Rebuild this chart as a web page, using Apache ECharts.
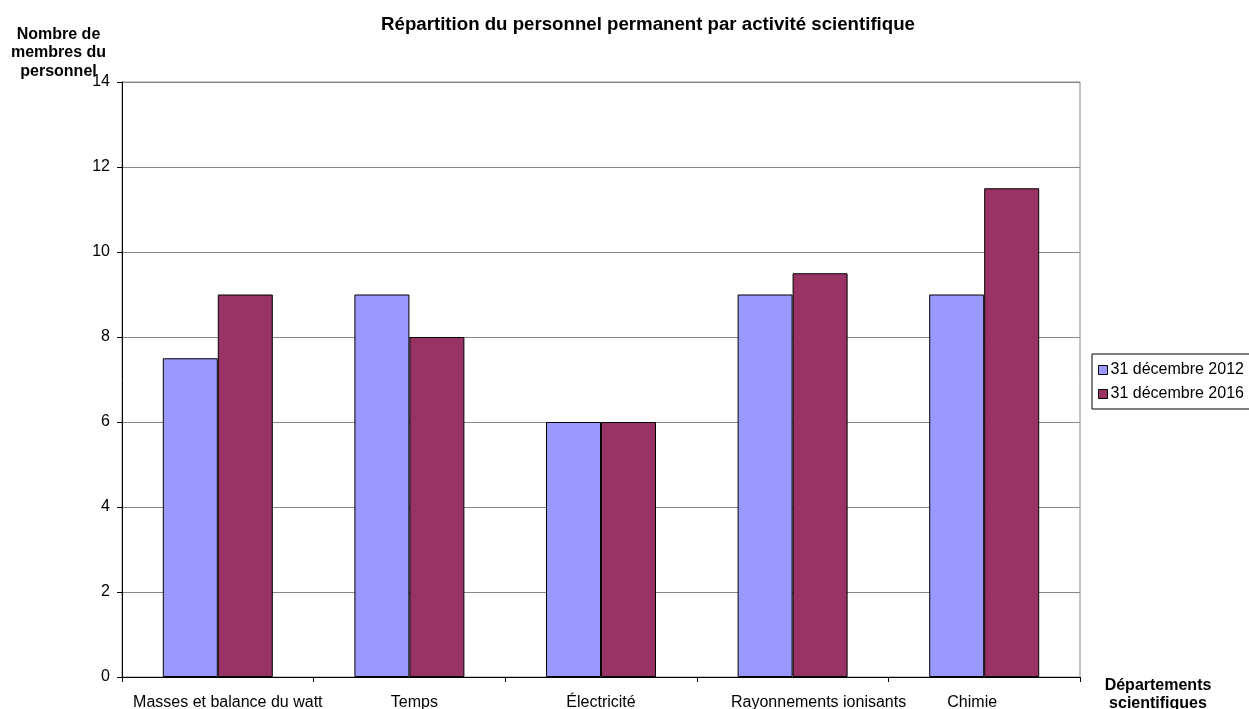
<!DOCTYPE html>
<html>
<head>
<meta charset="utf-8">
<script src="https://cdn.jsdelivr.net/npm/echarts@6/dist/echarts.min.js"></script>
<style>
html,body{margin:0;padding:0;background:#fff;}
#chart{width:1249px;height:709px;}
</style>
</head>
<body>
<div id="chart"></div>
<script>
// Departments and staff counts
const categories = ['Masses et balance du watt', 'Temps', 'Électricité', 'Rayonnements ionisants', 'Chimie'];
const seriesNames = ['31 décembre 2012', '31 décembre 2016'];
const staff2012 = [7.5, 9, 6, 9, 9];
const staff2016 = [9, 8, 6, 9.5, 11.5];
const yTicks = [0, 2, 4, 6, 8, 10, 12, 14];

// horizontal nudges for the category labels (px, + = right)
const labelShift = [10, 5, 0, 26, -12];

const FONT = '"Liberation Sans", Arial, sans-serif';
const chart = echarts.init(document.getElementById('chart'), null, { renderer: 'canvas' });

const rich = {};
labelShift.forEach((s, i) => {
  rich['c' + i] = {
    fontFamily: FONT, fontSize: 16, color: '#000',
    padding: s >= 0 ? [0, 0, 0, 2 * s] : [0, -2 * s, 0, 0]
  };
});

chart.setOption({
  animation: false,
  textStyle: { fontFamily: FONT },
  title: {
    text: 'Répartition du personnel permanent par activité scientifique',
    left: 643, top: 10, textAlign: 'center',
    textStyle: { fontFamily: FONT, fontSize: 18.67, fontWeight: 'bold', color: '#000' }
  },
  legend: {
    orient: 'vertical',
    left: 1092, top: 354,
    data: seriesNames,
    itemWidth: 9, itemHeight: 9, itemGap: 8,
    padding: [8, 40, 7, 6],
    borderColor: '#000', borderWidth: 1,
    icon: 'rect',
    itemStyle: { borderColor: '#000', borderWidth: 1 },
    textStyle: { fontFamily: FONT, fontSize: 16, color: '#000', padding: [0, 0, 0, -2] }
  },
  grid: {
    left: 122, right: 169, top: 82, bottom: 32,
    outerBoundsMode: 'none', containLabel: false,
    show: true, borderColor: '#888', borderWidth: 1, backgroundColor: 'transparent'
  },
  xAxis: {
    type: 'category',
    data: categories,
    axisLine: { lineStyle: { color: '#000', width: 1 } },
    axisTick: { show: true, length: 5, lineStyle: { color: '#000' } },
    axisLabel: {
      interval: 0, margin: 18,
      formatter: (v) => '{c' + categories.indexOf(v) + '|' + v + '}',
      rich: rich
    },
    name: 'Départements\nscientifiques',
    nameLocation: 'end', nameGap: 0, nameMoveOverlap: false,
    nameTextStyle: { fontFamily: FONT, fontSize: 16, fontWeight: 'bold', color: '#000',
      align: 'center', verticalAlign: 'top', lineHeight: 18, padding: [0, 0, 0, 156] }
  },
  yAxis: {
    type: 'value',
    min: yTicks[0], max: yTicks[yTicks.length - 1], interval: 2,
    axisLine: { show: true, lineStyle: { color: '#000', width: 1 } },
    axisTick: { show: true, length: 5, inside: false, lineStyle: { color: '#000' } },
    axisLabel: { fontFamily: FONT, fontSize: 16, color: '#000', margin: 12 },
    splitLine: { lineStyle: { color: '#888', width: 1 } },
    name: 'Nombre de\nmembres du\npersonnel',
    nameLocation: 'end', nameGap: 57, nameMoveOverlap: false,
    nameTextStyle: { fontFamily: FONT, fontSize: 16, fontWeight: 'bold', color: '#000',
      align: 'center', verticalAlign: 'top', lineHeight: 18.5, padding: [0, 127, 0, 0] }
  },
  series: [
    {
      name: seriesNames[0], type: 'bar', data: staff2012,
      barGap: '0%', barCategoryGap: '42.6%',
      itemStyle: { color: '#9999FF', borderColor: '#000', borderWidth: 1 }
    },
    {
      name: seriesNames[1], type: 'bar', data: staff2016,
      barGap: '0%', barCategoryGap: '42.6%',
      itemStyle: { color: '#993366', borderColor: '#000', borderWidth: 1 }
    }
  ]
});
</script>
</body>
</html>
